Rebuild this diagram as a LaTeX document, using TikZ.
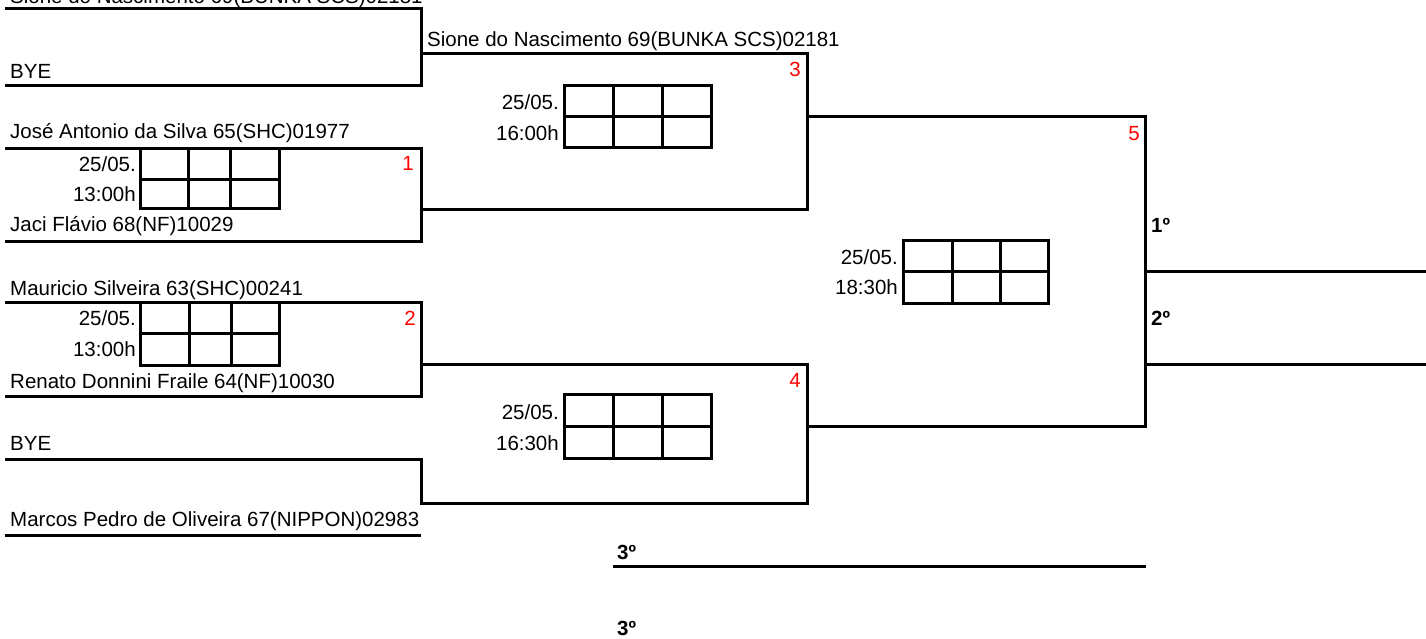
\documentclass[tikz,border=0pt]{standalone}
\usepackage{fontspec}
\setmainfont{Liberation Sans}
\newcommand\nmfont{\fontsize{20.5}{24}\selectfont}
\newcommand\scoretab[7]{%
  \draw[ln] (#1,#5) rectangle (#4,#7);
  \draw[ln] (#1,#6) -- (#4,#6);
  \draw[ln] (#2,#5) -- (#2,#7);
  \draw[ln] (#3,#5) -- (#3,#7);}
\begin{document}
\begin{tikzpicture}[x=1pt,y=-1pt,
  ln/.style={line width=3pt,line join=miter},
  nm/.style={anchor=base west,inner sep=0pt,font=\nmfont},
  lbl/.style={anchor=base east,inner sep=0pt,font=\nmfont},
  num/.style={anchor=base east,inner sep=0pt,font=\nmfont,text=red},
  plc/.style={anchor=base west,inner sep=0pt,font=\nmfont\bfseries}]
\useasboundingbox (0,0) rectangle (1426,638);
% slot line starts
\coordinate (s1) at (5,8);
\coordinate (s2) at (5,85);
\coordinate (s3) at (5,148);
\coordinate (s4) at (5,241);
\coordinate (s5) at (5,302);
\coordinate (s6) at (5,396);
\coordinate (s7) at (5,459);
\coordinate (s8) at (5,535);
\coordinate (e8) at (421,535);
% junctions
\coordinate (a1) at (421,53);
\coordinate (m1) at (421,209);
\coordinate (m2) at (421,364);
\coordinate (b1) at (421,503);
\coordinate (m3) at (807,116);
\coordinate (m4) at (807,426);
\coordinate (m5a) at (1145,271);
\coordinate (m5b) at (1145,364);
\coordinate (f1) at (1426,271);
\coordinate (f2) at (1426,364);
\coordinate (t1) at (613,566);
\coordinate (t2) at (1146,566);
% brackets
\draw[ln] (s1) -| (a1 |- s2) -- (s2);
\draw[ln] (s3) -| (m1 |- s4) -- (s4);
\draw[ln] (s5) -| (m2 |- s6) -- (s6);
\draw[ln] (s7) -| (b1) -| (m2 -| m4) -- (m2);
\draw[ln] (s8) -- (e8);
\draw[ln] (a1) -| (m1 -| m3) -- (m1);
\draw[ln] (m3) -| (m4 -| m5a) -- (m4);
\draw[ln] (m5a) -- (f1);
\draw[ln] (m5b) -- (f2);
\draw[ln] (t1) -- (t2);
% score tables
\scoretab{140}{188}{230}{279}{148}{179}{208}
\scoretab{140}{189}{231}{279}{302}{333}{365}
\scoretab{564}{613}{662}{711}{85}{116}{147}
\scoretab{564}{613}{662}{711}{394}{426}{458}
\scoretab{903}{952}{1000}{1048}{240}{271}{303}
% names
\node[nm] (n0) at (10,3.5) {Sione do Nascimento 69(BUNKA SCS)02181};
\node[nm] (n1) at (10,78) {BYE};
\node[nm] (n2) at (427,46.5) {Sione do Nascimento 69(BUNKA SCS)02181};
\node[nm] (n3) at (10,138) {José Antonio da Silva 65(SHC)01977};
\node[nm] (n4) at (10,231.5) {Jaci Flávio 68(NF)10029};
\node[nm] (n5) at (10,295) {Mauricio Silveira 63(SHC)00241};
\node[nm] (n6) at (10,388.3) {Renato Donnini Fraile 64(NF)10030};
\node[nm] (n7) at (10,450) {BYE};
\node[nm] (n8) at (10,526.7) {Marcos Pedro de Oliveira 67(NIPPON)02983};
% date labels
\node[lbl] (d1a) at (136,171) {25/05.};
\node[lbl] (d1b) at (136,201.7) {13:00h};
\node[lbl] (d2a) at (136,325.7) {25/05.};
\node[lbl] (d2b) at (136,356) {13:00h};
\node[lbl] (d3a) at (559,109.3) {25/05.};
\node[lbl] (d3b) at (559,140) {16:00h};
\node[lbl] (d4a) at (559,419) {25/05.};
\node[lbl] (d4b) at (559,450) {16:30h};
\node[lbl] (d5a) at (898,264) {25/05.};
\node[lbl] (d5b) at (898,294.5) {18:30h};
% match numbers
\node[num] (k1) at (414,170) {1};
\node[num] (k2) at (416,325) {2};
\node[num] (k3) at (801,76.7) {3};
\node[num] (k4) at (801,387.3) {4};
\node[num] (k5) at (1140,140) {5};
% places
\node[plc] (p1) at (1151,232.7) {1º};
\node[plc] (p2) at (1151,325) {2º};
\node[plc] (p3) at (617,559) {3º};
\node[plc] (p4) at (617,635) {3º};
\end{tikzpicture}
\end{document}
